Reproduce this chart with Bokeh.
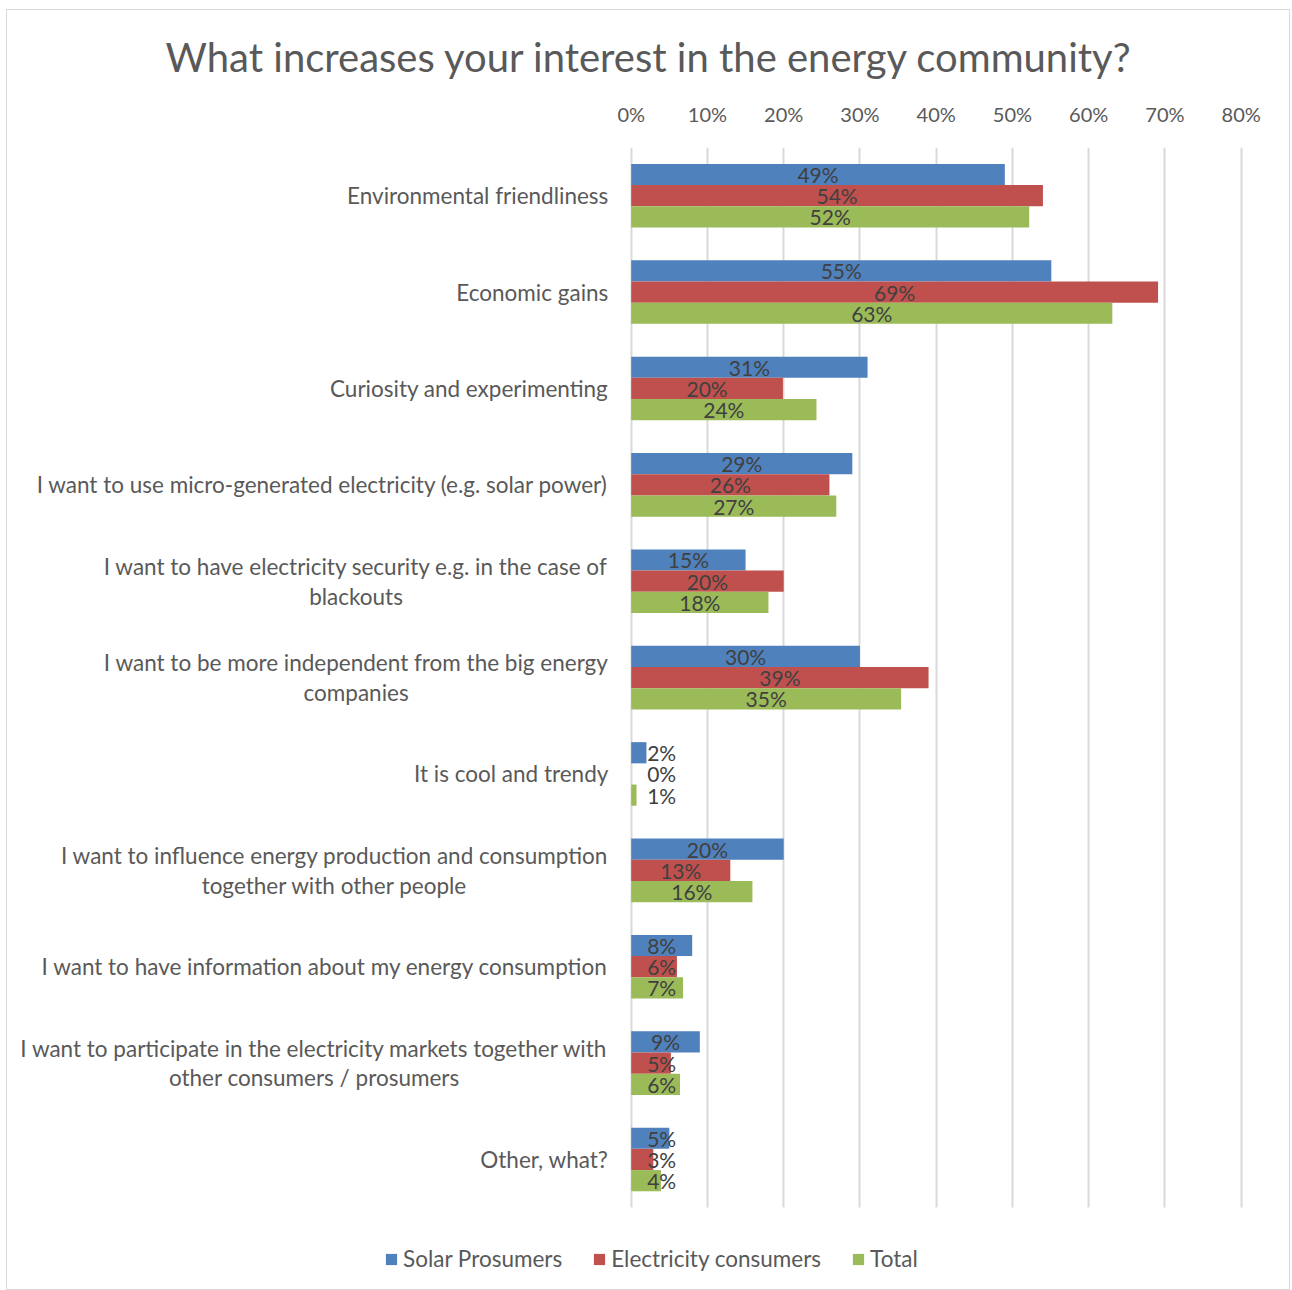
from bokeh.plotting import figure
from bokeh.models import (ColumnDataSource, Range1d, FixedTicker,
                          PrintfTickFormatter, Legend, LegendItem, Title)
from bokeh.transform import dodge
from bokeh.core.properties import value
from bokeh.embed import file_html
from bokeh.resources import INLINE

categories = [
    "Environmental friendliness",
    "Economic gains",
    "Curiosity and experimenting",
    "I want to use micro-generated electricity (e.g. solar power)",
    "I want to have electricity security e.g. in the case of\nblackouts",
    "I want to be more independent from the big energy\ncompanies",
    "It is cool and trendy",
    "I want to influence energy production and consumption\ntogether with other people",
    "I want to have information about my energy consumption",
    "I want to participate in the electricity markets together with\nother consumers / prosumers",
    "Other, what?",
]
solar_prosumers = [49.0, 55.1, 31.0, 29.0, 15.0, 30.0, 2.0, 20.0, 8.0, 9.0, 5.0]
electricity_consumers = [54.0, 69.1, 19.9, 26.0, 20.0, 39.0, 0.0, 13.0, 6.0, 5.2, 2.9]
total = [52.2, 63.1, 24.3, 26.9, 18.0, 35.4, 0.7, 15.9, 6.8, 6.4, 3.9]
x_ticks = [0, 10, 20, 30, 40, 50, 60, 70, 80]
series_names = ["Solar Prosumers", "Electricity consumers", "Total"]
colors = ["#4F81BD", "#C0504D", "#9BBB59"]

FONT = "Lato"
N = len(categories)

def lab(vals):
    return ["%d%%" % round(v) for v in vals]

def labx(vals):
    return [max(v / 2.0, 4.0) for v in vals]

src = ColumnDataSource(data=dict(
    cat=categories,
    ypos=[N - 0.5 - i for i in range(N)],
    s=solar_prosumers, c=electricity_consumers, t=total,
    s_lab=lab(solar_prosumers), c_lab=lab(electricity_consumers), t_lab=lab(total),
    s_x=labx(solar_prosumers), c_x=labx(electricity_consumers), t_x=labx(total),
))

p = figure(
    width=1284, height=1281,
    x_range=Range1d(-81.8, 86.6),
    y_range=Range1d(-0.87, N),
    output_backend="svg", toolbar_location=None,
    x_axis_location="above", y_axis_location=None,
    min_border_left=0, min_border_right=0,
    min_border_top=137, min_border_bottom=0,
    margin=(9, 0, 0, 6),
    styles={"border": "1px solid #d9d9d9"},
)
p.background_fill_color = "white"
p.border_fill_color = "white"
p.outline_line_color = None

offsets = [0.22, 0.0, -0.22]
keys = ["s", "c", "t"]
renderers = []
for k, off, col in zip(keys, offsets, colors):
    r = p.hbar(y=dodge("ypos", off), right=k, left=0, height=0.22,
               source=src, fill_color=col, line_color=None)
    renderers.append(r)
    p.text(x=k + "_x", y=dodge("ypos", off), text=k + "_lab", source=src,
           text_align="center", text_baseline="middle", text_font=value(FONT),
           text_font_size="21px", text_color="#404040")

# category labels (left of the value axis): block anchored right, lines centred
p.text(x=-3.0, y="ypos", text="cat", source=src, anchor="center_right",
       text_align="center", text_baseline="middle", text_font=value(FONT),
       text_font_size="22.5px", text_color="#595959", text_line_height=1.1)

# top value axis
xa = p.xaxis[0]
xa.ticker = FixedTicker(ticks=x_ticks)
xa.formatter = PrintfTickFormatter(format="%d%%")
xa.axis_line_color = None
xa.major_tick_line_color = None
xa.minor_tick_line_color = None
xa.major_label_text_font = FONT
xa.major_label_text_font_size = "20px"
xa.major_label_text_color = "#595959"
xa.major_label_standoff = 16

for g in p.grid:
    if g.dimension == 1:
        g.grid_line_color = None
    else:
        g.ticker = FixedTicker(ticks=x_ticks)
        g.grid_line_color = "#d9d9d9"
        g.grid_line_width = 2
        if "cross_bounds" in g.properties():
            g.cross_bounds = (0, N)
        else:
            g.grid_line_color = None
            p.segment(x0=x_ticks, x1=x_ticks, y0=[0] * len(x_ticks), y1=[N] * len(x_ticks),
                      line_color="#d9d9d9", line_width=2, level="underlay")

title = Title(text="What increases your interest in the energy community?",
              text_font=FONT, text_font_size="40px", text_color="#595959",
              text_font_style="normal", align="center", standoff=35)
p.add_layout(title, "above")

legend = Legend(
    items=[LegendItem(label=n, renderers=[r]) for n, r in zip(series_names, renderers)],
    orientation="horizontal", location=(377, 19),
    label_text_font=FONT, label_text_font_size="22.5px", label_text_color="#595959",
    glyph_width=14, glyph_height=14, label_standoff=5, spacing=30,
    border_line_color=None, background_fill_alpha=0, padding=4, margin=0,
)
p.add_layout(legend, "center")

open("out.html", "w").write(file_html(p, INLINE))
